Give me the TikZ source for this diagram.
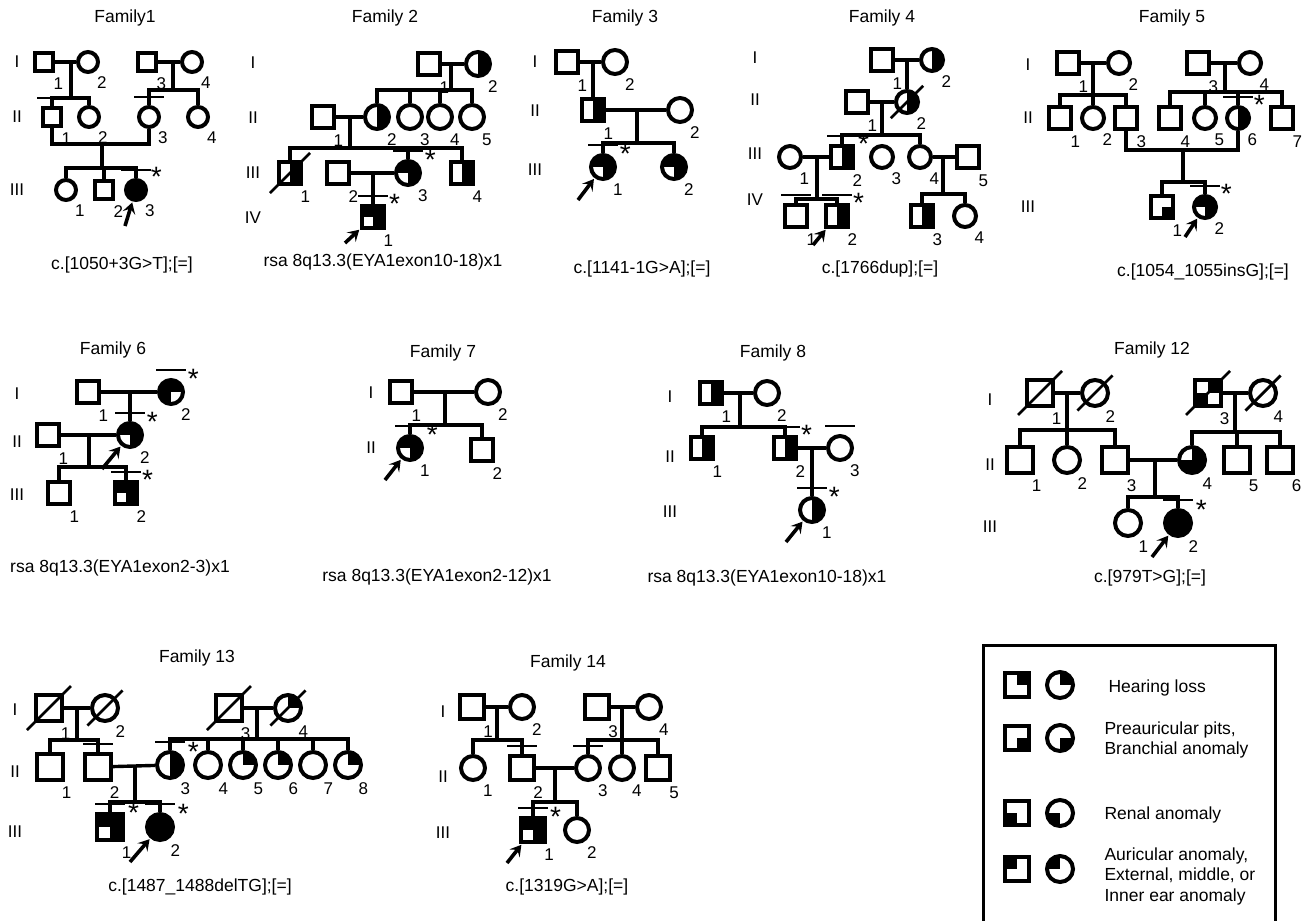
\documentclass[tikz,border=0pt]{standalone}
\usepackage{fontspec}
\setmainfont{Liberation Sans}
\usetikzlibrary{arrows.meta}
\tikzset{
	male/.style={
			shape=rectangle,
			draw=black,
			line width=4pt,
			fill=white,
			minimum size=22pt,
			inner sep=0pt
		},
	female/.style={
			male,
			shape=circle,
			minimum size=24pt
		},
	affq/.style={
			path picture={
					\foreach \q in {#1}
						\fill[black] (path picture bounding box.center) rectangle (path picture bounding box.\q);
				}
		},
	half/.style={affq={north east,south east}},
	norenal/.style={affq={north east,south east,north west}},
	full/.style={fill=black},
	ln/.style={draw=black, line width=3.4pt},
	dead/.style={
			append after command={([shift={(-7pt,-7pt)}]\tikzlastnode.south west) edge[draw=black, line width=2.8pt] ([shift={(7pt,7pt)}]\tikzlastnode.north east)}
		},
	tested/.style={
			append after command={([shift={(-15pt,8pt)}]\tikzlastnode.north) edge[draw=black, line width=2.8pt] ([shift={(15pt,8pt)}]\tikzlastnode.north)}
		},
	num/.style={font=\fontsize{17}{19}\selectfont, inner sep=1pt, label distance=4pt},
	astlbl/.style={font=\fontsize{28}{30}\selectfont, inner sep=0pt, text depth=-6pt, label distance=3pt},
	pid/.style={label={[num]-60:#1}},
	mut/.style={label={[astlbl]12:*}},
	proband/.style={-{Stealth[length=11pt,width=13pt,inset=4.5pt]}, line width=3.6pt, shorten >=1pt}
}
\tikzset{
	famtitle/.style={font=\fontsize{17.5}{20}\selectfont},
	genlbl/.style={font=\fontsize{17}{19}\selectfont},
	geno/.style={font=\fontsize{17.5}{20}\selectfont},
	legtxt/.style={font=\fontsize{17.5}{20.5}\selectfont, align=left, anchor=west}
}

\begin{document}
\begin{tikzpicture}[x=1pt, y=-1pt]
	\useasboundingbox (0,0) rectangle (1304,921);

	% Family 1
	\node[famtitle] (t1) at (125,18) {Family1};
	\foreach \g/\y in {I/62,II/117,III/190} \node[genlbl] (g1\g) at (17,\y) {\g};
	\begin{scope}[male/.append style={minimum size=18pt}, female/.append style={minimum size=20pt}]
		\node[male, pid=1] (F1I1) at (44,62) {};
		\node[female, pid=2] (F1I2) at (88,62) {};
		\node[male, pid=3] (F1I3) at (147,62) {};
		\node[female, pid=4] (F1I4) at (192,62) {};
		\node[male, tested, pid=1] (F1II1) at (52,117) {};
		\node[female, pid=2] (F1II2) at (89,117) {};
		\node[female, tested, pid=3] (F1II3) at (149,117) {};
		\node[female, pid=4] (F1II4) at (198,117) {};
		\node[female, pid=1] (F1III1) at (66,190) {};
		\node[male, pid=2] (F1III2) at (104,190) {};
		\node[female, full, tested, mut, pid=3] (F1III3) at (136,190) {};
	\end{scope}
	\coordinate (F1u1) at (71,62); \coordinate (F1s1) at (71,98);
	\coordinate (F1u2) at (173,62); \coordinate (F1s2) at (173,90);
	\coordinate (F1u3) at (102,144); \coordinate (F1s3) at (102,168);
	\coordinate (F1p) at (125,226);
	\draw[ln] (F1I1) -- (F1I2);
	\draw[ln] (F1I3) -- (F1I4);
	\draw[ln] (F1u1) -- (F1s1);
	\draw[ln] (F1II1) |- (F1s1) -| (F1II2);
	\draw[ln] (F1u2) -- (F1s2);
	\draw[ln] (F1II3) |- (F1s2) -| (F1II4);
	\draw[ln] (F1II1) |- (F1u3) -| (F1II3);
	\draw[ln] (F1u3) -- (F1s3);
	\draw[ln] (F1III1) |- (F1s3) -| (F1III3);
	\draw[ln] (F1III2) -- (F1III2 |- F1s3);
	\draw[proband] (F1p) -- (F1III3);
	\node[geno] (c1) at (122,265) {c.[1050+3G>T];[=]};

	% Family 2
	\node[famtitle] (t2) at (385,18) {Family 2};
	\foreach \g/\y in {I/63,II/118,III/173,IV/218} \node[genlbl] (g2\g) at (253,\y) {\g};
	\node[male, pid=1] (F2I1) at (429,64) {};
	\node[female, half, pid=2] (F2I2) at (478,64) {};
	\node[male, pid=1] (F2II1) at (323,117) {};
	\node[female, half, pid=2] (F2II2) at (377,117) {};
	\node[female, pid=3] (F2II3) at (410,117) {};
	\node[female, pid=4] (F2II4) at (440,117) {};
	\node[female, pid=5] (F2II5) at (472,117) {};
	\node[male, half, dead, pid=1] (F2III1) at (290,173) {};
	\node[male, pid=2] (F2III2) at (338,173) {};
	\node[female, norenal, tested, mut, pid=3] (F2III3) at (408,173) {};
	\node[male, half, pid=4] (F2III4) at (462,173) {};
	\node[male, norenal, tested, mut, pid=1] (F2IV1) at (373,217) {};
	\coordinate (F2u1) at (451,64); \coordinate (F2s1) at (451,90);
	\coordinate (F2u2) at (350,117); \coordinate (F2s2) at (350,148);
	\coordinate (F2u3) at (373,173);
	\coordinate (F2p) at (345,243);
	\draw[ln] (F2I1) -- (F2I2);
	\draw[ln] (F2u1) -- (F2s1);
	\draw[ln] (F2II2) |- (F2s1) -| (F2II5);
	\foreach \c in {F2II3,F2II4} \draw[ln] (\c) -- (\c |- F2s1);
	\draw[ln] (F2II1) -- (F2II2);
	\draw[ln] (F2u2) -- (F2s2);
	\draw[ln] (F2III1) |- (F2s2) -| (F2III4);
	\draw[ln] (F2III3) -- (F2III3 |- F2s2);
	\draw[ln] (F2III2) -- (F2III3);
	\draw[ln] (F2u3) -- (F2IV1);
	\draw[proband] (F2p) -- (F2IV1);
	\node[geno] (c2) at (383,262) {rsa 8q13.3(EYA1exon10-18)x1};

	% Family 3
	\node[famtitle] (t3) at (625,18) {Family 3};
	\foreach \g/\y in {I/62,II/111,III/170} \node[genlbl] (g3\g) at (535,\y) {\g};
	\begin{scope}[male/.append style={minimum size=22pt}, female/.append style={minimum size=24pt}]
		\node[male, pid=1] (F3I1) at (567,62) {};
		\node[female, pid=2] (F3I2) at (615,62) {};
		\node[male, half, pid=1] (F3II1) at (593,110) {};
		\node[female, pid=2] (F3II2) at (680,110) {};
		\node[female, norenal, tested, mut, pid=1] (F3III1) at (603,167) {};
		\node[female, norenal, pid=2] (F3III2) at (674,167) {};
	\end{scope}
	\coordinate (F3u1) at (593,62);
	\coordinate (F3u2) at (637,110); \coordinate (F3s2) at (637,143);
	\coordinate (F3p) at (578,200);
	\draw[ln] (F3I1) -- (F3I2);
	\draw[ln] (F3u1) -- (F3II1);
	\draw[ln] (F3II1) -- (F3II2);
	\draw[ln] (F3u2) -- (F3s2);
	\draw[ln] (F3III1) |- (F3s2) -| (F3III2);
	\draw[proband] (F3p) -- (F3III1);
	\node[geno] (c3) at (642,269) {c.[1141-1G>A];[=]};

	% Family 4
	\node[famtitle] (t4) at (882,18) {Family 4};
	\foreach \g/\y in {I/58,II/100,III/154,IV/200} \node[genlbl] (g4\g) at (755,\y) {\g};
	\begin{scope}[male/.append style={minimum size=22pt}, female/.append style={minimum size=22pt}]
		\node[male, pid=1] (F4I1) at (882,60) {};
		\node[female, half, pid=2] (F4I2) at (932,60) {};
		\node[male, pid=1] (F4II1) at (857,102) {};
		\node[female, half, dead, pid=2] (F4II2) at (907,102) {};
		\node[female, pid=1] (F4III1) at (790,157) {};
		\node[male, half, tested, mut, pid=2] (F4III2) at (842,157) {};
		\node[female, pid=3] (F4III3) at (882,157) {};
		\node[female, pid=4] (F4III4) at (920,157) {};
		\node[male, pid=5] (F4III5) at (968,157) {};
		\node[male, tested, pid=1] (F4IV1) at (796,216) {};
		\node[male, half, tested, mut, pid=2] (F4IV2) at (837,216) {};
		\node[male, half, pid=3] (F4IV3) at (922,216) {};
		\node[female, pid=4] (F4IV4) at (965,216) {};
	\end{scope}
	\coordinate (F4u1) at (907,60);
	\coordinate (F4u2) at (882,102); \coordinate (F4s2) at (882,135);
	\coordinate (F4u3) at (817,157); \coordinate (F4s3) at (817,199);
	\coordinate (F4u4) at (943,157); \coordinate (F4s4) at (943,194);
	\coordinate (F4p) at (813,245);
	\draw[ln] (F4I1) -- (F4I2);
	\draw[ln] (F4u1) -- (F4II2);
	\draw[ln] (F4II1) -- (F4II2);
	\draw[ln] (F4u2) -- (F4s2);
	\draw[ln] (F4III2) |- (F4s2) -| (F4III4);
	\draw[ln] (F4III1) -- (F4III2);
	\draw[ln] (F4III4) -- (F4III5);
	\draw[ln] (F4u3) -- (F4s3);
	\draw[ln] (F4IV1) |- (F4s3) -| (F4IV2);
	\draw[ln] (F4u4) -- (F4s4);
	\draw[ln] (F4IV3) |- (F4s4) -| (F4IV4);
	\draw[proband] (F4p) -- (F4IV2);
	\node[geno] (c4) at (880,269) {c.[1766dup];[=]};

	% Family 5
	\node[famtitle] (t5) at (1172,18) {Family 5};
	\foreach \g/\y in {I/65,II/118,III/207} \node[genlbl] (g5\g) at (1028,\y) {\g};
	\begin{scope}[male/.append style={minimum size=22pt}, female/.append style={minimum size=22pt}]
		\node[male, pid=1] (F5I1) at (1068,63) {};
		\node[female, pid=2] (F5I2) at (1119,63) {};
		\node[male, pid=3] (F5I3) at (1198,63) {};
		\node[female, pid=4] (F5I4) at (1250,63) {};
		\node[male, pid=1] (F5II1) at (1060,118) {};
		\node[female, pid=2] (F5II2) at (1093,118) {};
		\node[male, pid=3] (F5II3) at (1126,118) {};
		\node[male, pid=4] (F5II4) at (1170,118) {};
		\node[female, pid=5] (F5II5) at (1205,118) {};
		\node[female, half, tested, mut, pid=6] (F5II6) at (1238,118) {};
		\node[male, pid=7] (F5II7) at (1282,118) {};
		\node[male, affq={south east}, pid=1] (F5III1) at (1162,207) {};
		\node[female, norenal, tested, mut, pid=2] (F5III2) at (1205,207) {};
	\end{scope}
	\coordinate (F5u1) at (1093,63); \coordinate (F5s1) at (1093,95);
	\coordinate (F5u2) at (1225,63); \coordinate (F5s2) at (1225,92);
	\coordinate (F5u3) at (1183,150); \coordinate (F5s3) at (1183,182);
	\coordinate (F5p) at (1185,237);
	\draw[ln] (F5I1) -- (F5I2);
	\draw[ln] (F5I3) -- (F5I4);
	\draw[ln] (F5u1) -- (F5s1);
	\draw[ln] (F5II1) |- (F5s1) -| (F5II3);
	\draw[ln] (F5II2) -- (F5II2 |- F5s1);
	\draw[ln] (F5u2) -- (F5s2);
	\draw[ln] (F5II4) |- (F5s2) -| (F5II7);
	\foreach \c in {F5II5,F5II6} \draw[ln] (\c) -- (\c |- F5s2);
	\draw[ln] (F5II3) |- (F5u3) -| (F5II6);
	\draw[ln] (F5u3) -- (F5s3);
	\draw[ln] (F5III1) |- (F5s3) -| (F5III2);
	\draw[proband] (F5p) -- (F5III2);
	\node[geno] (c5) at (1203,272) {c.[1054\_1055insG];[=]};

	% Family 6
	\node[famtitle] (t6) at (113,350) {Family 6};
	\foreach \g/\y in {I/394,II/442,III/495} \node[genlbl] (g6\g) at (17,\y) {\g};
	\begin{scope}[male/.append style={minimum size=22pt}, female/.append style={minimum size=24pt}]
		\node[male, pid=1] (F6I1) at (88,392) {};
		\node[female, affq={north west,south west,north east}, tested, mut, pid=2] (F6I2) at (171,392) {};
		\node[male, pid=1] (F6II1) at (48,435) {};
		\node[female, norenal, tested, mut, pid=2] (F6II2) at (130,435) {};
		\node[male, pid=1] (F6III1) at (59,493) {};
		\node[male, norenal, tested, mut, pid=2] (F6III2) at (126,493) {};
	\end{scope}
	\coordinate (F6u1) at (130,392);
	\coordinate (F6u2) at (89,435); \coordinate (F6s2) at (89,467);
	\coordinate (F6p) at (102,469);
	\draw[ln] (F6I1) -- (F6I2);
	\draw[ln] (F6u1) -- (F6II2);
	\draw[ln] (F6II1) -- (F6II2);
	\draw[ln] (F6u2) -- (F6s2);
	\draw[ln] (F6III1) |- (F6s2) -| (F6III2);
	\draw[proband] (F6p) -- (F6II2);
	\node[geno] (c6) at (120,568) {rsa 8q13.3(EYA1exon2-3)x1};

	% Family 7
	\node[famtitle] (t7) at (443,353) {Family 7};
	\foreach \g/\y in {I/393,II/448} \node[genlbl] (g7\g) at (371,\y) {\g};
	\begin{scope}[male/.append style={minimum size=22pt}, female/.append style={minimum size=24pt}]
		\node[male, pid=1] (F7I1) at (401,392) {};
		\node[female, pid=2] (F7I2) at (488,392) {};
		\node[female, norenal, tested, mut, pid=1] (F7II1) at (410,448) {};
		\node[male, pid=2] (F7II2) at (482,450) {};
	\end{scope}
	\coordinate (F7u1) at (445,392); \coordinate (F7s1) at (445,425);
	\coordinate (F7p) at (385,480);
	\draw[ln] (F7I1) -- (F7I2);
	\draw[ln] (F7u1) -- (F7s1);
	\draw[ln] (F7II1) |- (F7s1) -| (F7II2);
	\draw[proband] (F7p) -- (F7II1);
	\node[geno] (c7) at (437,577) {rsa 8q13.3(EYA1exon2-12)x1};

	% Family 8
	\node[famtitle] (t8) at (773,353) {Family 8};
	\foreach \g/\y in {I/397,II/457,III/512} \node[genlbl] (g8\g) at (670,\y) {\g};
	\begin{scope}[male/.append style={minimum size=22pt}, female/.append style={minimum size=24pt}]
		\node[male, half, pid=1] (F8I1) at (711,393) {};
		\node[female, pid=2] (F8I2) at (767,393) {};
		\node[male, half, pid=1] (F8II1) at (702,448) {};
		\node[male, half, tested, mut, pid=2] (F8II2) at (785,448) {};
		\node[female, tested, pid=3] (F8II3) at (840,448) {};
		\node[female, half, tested, mut, pid=1] (F8III1) at (812,510) {};
	\end{scope}
	\coordinate (F8u1) at (740,393); \coordinate (F8s1) at (740,427);
	\coordinate (F8u2) at (812,448);
	\coordinate (F8p) at (786,542);
	\draw[ln] (F8I1) -- (F8I2);
	\draw[ln] (F8u1) -- (F8s1);
	\draw[ln] (F8II1) |- (F8s1) -| (F8II2);
	\draw[ln] (F8II2) -- (F8II3);
	\draw[ln] (F8u2) -- (F8III1);
	\draw[proband] (F8p) -- (F8III1);
	\node[geno] (c8) at (767,578) {rsa 8q13.3(EYA1exon10-18)x1};

	% Family 12
	\node[famtitle] (t12) at (1152,350) {Family 12};
	\foreach \g/\y in {I/400,II/465,III/527} \node[genlbl] (g12\g) at (990,\y) {\g};
	\begin{scope}[male/.append style={minimum size=26pt}, female/.append style={minimum size=26pt}]
		\node[male, dead, pid=1] (F12I1) at (1040,393) {};
		\node[female, dead, pid=2] (F12I2) at (1095,393) {};
		\node[male, dead, affq={north east,south west}, pid=3] (F12I3) at (1208,393) {};
		\node[female, dead, pid=4] (F12I4) at (1263,393) {};
		\node[male, pid=1] (F12II1) at (1020,460) {};
		\node[female, pid=2] (F12II2) at (1067,460) {};
		\node[male, pid=3] (F12II3) at (1115,460) {};
		\node[female, affq={north east,south east,south west}, pid=4] (F12II4) at (1192,460) {};
		\node[male, pid=5] (F12II5) at (1237,460) {};
		\node[male, pid=6] (F12II6) at (1280,460) {};
		\node[female, pid=1] (F12III1) at (1128,523) {};
		\node[female, full, tested, mut, pid=2] (F12III2) at (1178,523) {};
	\end{scope}
	\coordinate (F12u1) at (1067,393); \coordinate (F12s1) at (1067,430);
	\coordinate (F12u2) at (1235,393); \coordinate (F12s2) at (1235,432);
	\coordinate (F12u3) at (1155,460); \coordinate (F12s3) at (1155,497);
	\coordinate (F12p) at (1152,557);
	\draw[ln] (F12I1) -- (F12I2);
	\draw[ln] (F12I3) -- (F12I4);
	\draw[ln] (F12u1) -- (F12s1);
	\draw[ln] (F12II1) |- (F12s1) -| (F12II3);
	\draw[ln] (F12II2) -- (F12II2 |- F12s1);
	\draw[ln] (F12u2) -- (F12s2);
	\draw[ln] (F12II4) |- (F12s2) -| (F12II6);
	\draw[ln] (F12II5) -- (F12II5 |- F12s2);
	\draw[ln] (F12II3) -- (F12II4);
	\draw[ln] (F12u3) -- (F12s3);
	\draw[ln] (F12III1) |- (F12s3) -| (F12III2);
	\draw[proband] (F12p) -- (F12III2);
	\node[geno] (c12) at (1150,578) {c.[979T>G];[=]};

	% Family 13
	\node[famtitle] (t13) at (197,658) {Family 13};
	\foreach \g/\y in {I/710,II/772,III/832} \node[genlbl] (g13\g) at (15,\y) {\g};
	\begin{scope}[male/.append style={minimum size=26pt}, female/.append style={minimum size=26pt}]
		\node[male, dead, pid=1] (F13I1) at (49,708) {};
		\node[female, dead, pid=2] (F13I2) at (105,708) {};
		\node[male, dead, pid=3] (F13I3) at (229,708) {};
		\node[female, dead, affq={north east}, pid=4] (F13I4) at (288,708) {};
		\node[male, pid=1] (F13II1) at (50,767) {};
		\node[male, tested, pid=2] (F13II2) at (98,767) {};
		\node[female, half, tested, mut, pid=3] (F13II3) at (170,765) {};
		\node[female, pid=4] (F13II4) at (208,765) {};
		\node[female, affq={north east}, pid=5] (F13II5) at (243,765) {};
		\node[female, affq={north east}, pid=6] (F13II6) at (278,765) {};
		\node[female, pid=7] (F13II7) at (313,765) {};
		\node[female, affq={north east}, pid=8] (F13II8) at (348,765) {};
		\node[male, norenal, tested, mut, pid=1] (F13III1) at (110,827) {};
		\node[female, full, tested, mut, pid=2] (F13III2) at (160,827) {};
	\end{scope}
	\coordinate (F13u1) at (77,708); \coordinate (F13s1) at (77,740);
	\coordinate (F13u2) at (257,708); \coordinate (F13s2) at (257,739);
	\coordinate (F13u3) at (135,767); \coordinate (F13s3) at (135,802);
	\coordinate (F13p) at (130,862);
	\draw[ln] (F13I1) -- (F13I2);
	\draw[ln] (F13I3) -- (F13I4);
	\draw[ln] (F13u1) -- (F13s1);
	\draw[ln] (F13II1) |- (F13s1) -| (F13II2);
	\draw[ln] (F13u2) -- (F13s2);
	\draw[ln] (F13II3) |- (F13s2) -| (F13II8);
	\foreach \c in {F13II4,F13II5,F13II6,F13II7} \draw[ln] (\c) -- (\c |- F13s2);
	\draw[ln] (F13II2) -- (F13II3);
	\draw[ln] (F13u3) -- (F13s3);
	\draw[ln] (F13III1) |- (F13s3) -| (F13III2);
	\draw[proband] (F13p) -- (F13III2);
	\node[geno] (c13) at (200,887) {c.[1487\_1488delTG];[=]};

	% Family 14
	\node[famtitle] (t14) at (568,663) {Family 14};
	\foreach \g/\y in {I/712,II/777,III/833} \node[genlbl] (g14\g) at (443,\y) {\g};
	\begin{scope}[male/.append style={minimum size=24pt}, female/.append style={minimum size=24pt}]
		\node[male, pid=1] (F14I1) at (472,707) {};
		\node[female, pid=2] (F14I2) at (522,707) {};
		\node[male, pid=3] (F14I3) at (597,707) {};
		\node[female, pid=4] (F14I4) at (649,707) {};
		\node[female, pid=1] (F14II1) at (473,768) {};
		\node[male, tested, pid=2] (F14II2) at (522,768) {};
		\node[female, tested, pid=3] (F14II3) at (588,768) {};
		\node[female, pid=4] (F14II4) at (622,768) {};
		\node[male, pid=5] (F14II5) at (658,768) {};
		\node[male, norenal, tested, mut, pid=1] (F14III1) at (533,830) {};
		\node[female, pid=2] (F14III2) at (577,830) {};
	\end{scope}
	\coordinate (F14u1) at (497,707); \coordinate (F14s1) at (497,740);
	\coordinate (F14u2) at (622,707); \coordinate (F14s2) at (622,740);
	\coordinate (F14u3) at (555,768); \coordinate (F14s3) at (555,802);
	\coordinate (F14p) at (507,863);
	\draw[ln] (F14I1) -- (F14I2);
	\draw[ln] (F14I3) -- (F14I4);
	\draw[ln] (F14u1) -- (F14s1);
	\draw[ln] (F14II1) |- (F14s1) -| (F14II2);
	\draw[ln] (F14u2) -- (F14s2);
	\draw[ln] (F14II3) |- (F14s2) -| (F14II5);
	\draw[ln] (F14II4) -- (F14II4 |- F14s2);
	\draw[ln] (F14II2) -- (F14II3);
	\draw[ln] (F14u3) -- (F14s3);
	\draw[ln] (F14III1) |- (F14s3) -| (F14III2);
	\draw[proband] (F14p) -- (F14III1);
	\node[geno] (c14) at (567,887) {c.[1319G>A];[=]};

	% legend
	\draw[line width=3.4pt] (983.5,645.5) rectangle (1275.5,935);
	\begin{scope}[male/.append style={minimum size=24pt}, female/.append style={minimum size=26pt}]
		\node[male, affq={north east}] (L1m) at (1017,685) {};
		\node[female, affq={north east}] (L1f) at (1060,685) {};
		\node[male, affq={south east}] (L2m) at (1017,738) {};
		\node[female, affq={south east}] (L2f) at (1060,738) {};
		\node[male, affq={south west}] (L3m) at (1017,813) {};
		\node[female, affq={south west}] (L3f) at (1060,813) {};
		\node[male, affq={north west}] (L4m) at (1017,869) {};
		\node[female, affq={north west}] (L4f) at (1060,869) {};
	\end{scope}
	\node[legtxt] (L1t) at (1105,688) {Hearing loss};
	\node[legtxt] (L2t) at (1101,740) {Preauricular pits,\\Branchial anomaly};
	\node[legtxt] (L3t) at (1101,815) {Renal anomaly};
	\node[legtxt] (L4t) at (1101,876) {Auricular anomaly,\\External, middle, or\\Inner ear anomaly};

\end{tikzpicture}
\end{document}
